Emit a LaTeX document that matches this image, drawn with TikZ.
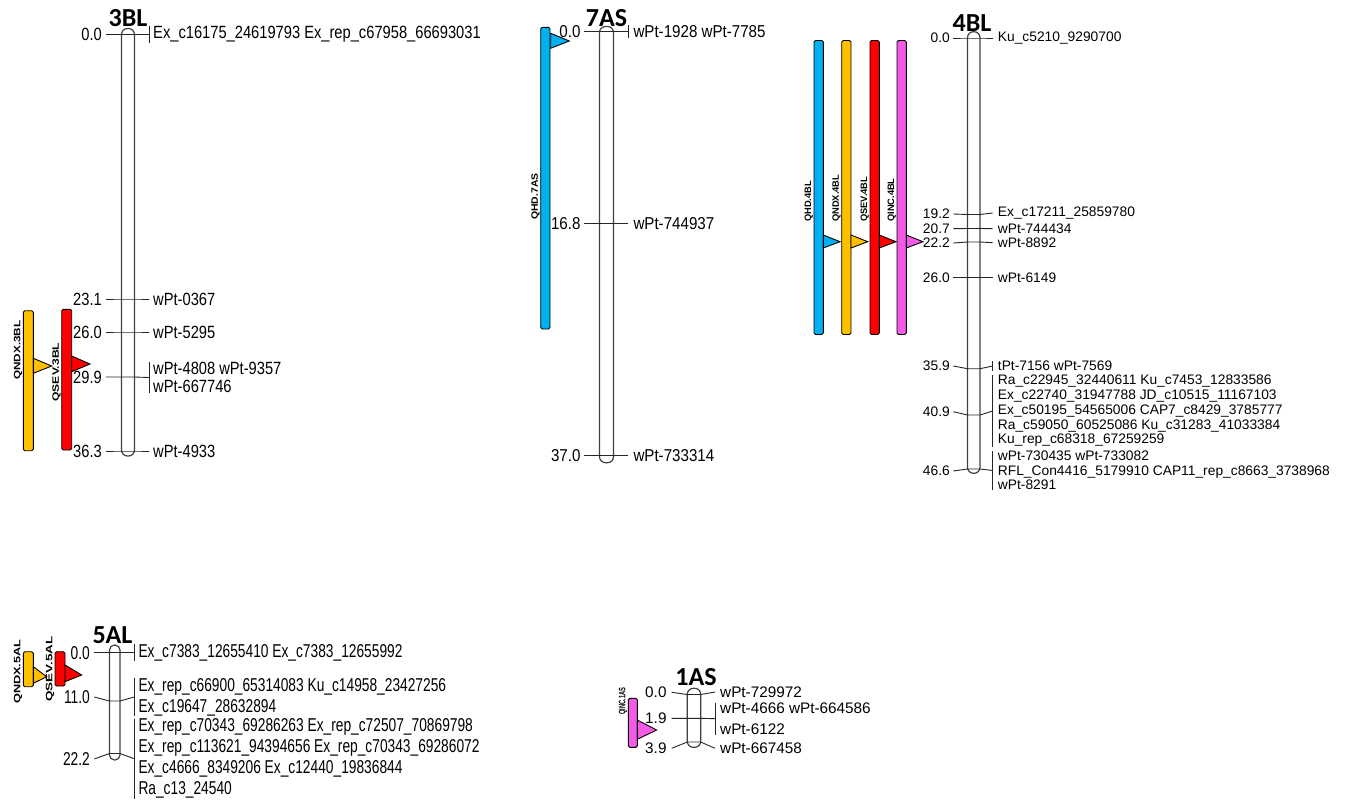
\documentclass[tikz,border=0pt]{standalone}
\usepackage{fontspec}
\usepackage{graphicx}
\setmainfont{Liberation Sans}
\newfontfamily\headfont{Carlito}
\newfontfamily\bltfont{Liberation Sans}[FakeStretch=0.83]
\newfontfamily\asfont{Liberation Sans}[FakeStretch=0.88]
\newfontfamily\alfont{Liberation Sans}[FakeStretch=0.74]
\usetikzlibrary{positioning}
\definecolor{hdblue}{HTML}{00B0F0}
\definecolor{ndxorange}{HTML}{FFC000}
\definecolor{sevred}{HTML}{FF0000}
\definecolor{incpink}{HTML}{F25BE6}
\tikzstyle{chrom} = [draw=black!75, line width=1.2pt, rounded corners=6pt]
\tikzstyle{tickline} = [draw=black!85, line width=0.9pt]
\tikzstyle{cmlabel} = [anchor=east, inner sep=0pt]
\tikzstyle{mklabel} = [anchor=west, inner sep=0pt, align=left]
\tikzstyle{chromname} = [anchor=base, inner sep=0pt, font=\headfont\bfseries\fontsize{26}{26}\selectfont]
\tikzstyle{qtlbar} = [draw=black, line width=0.9pt, rounded corners=1.5pt]
\tikzstyle{qtlpeak} = [draw=black, line width=0.9pt]
\tikzstyle{qtlname} = [rotate=90, anchor=south west, inner sep=0pt, font=\bfseries\fontsize{9.3}{10}\selectfont]

\begin{document}
\begin{tikzpicture}[x=1pt, y=-1pt]
    \useasboundingbox (0,0) rectangle (1346,801);

    % 3BL
    \draw[chrom] (121.5,28.5) rectangle (134.5,456);
    \node[chromname] (n3BL) at (128,26.7) {3BL};
    \begin{scope}[font=\bltfont\fontsize{17.7}{18.3}\selectfont]
    \foreach \n/\yc/\yl/\yr/\cM/\br/\mk in {
        a/34.5/34.5/34.5/0.0/1/{Ex\_c16175\_24619793 Ex\_rep\_c67958\_66693031},
        b/299/299/299/23.1/0/{wPt-0367},
        c/332/332/332/26.0/0/{wPt-5295},
        d/377/377/377.5/29.9/1/{wPt-4808 wPt-9357\\wPt-667746},
        e/451/451/451/36.3/0/{wPt-4933}} {
        \node[cmlabel] (bc\n) at (102,\yl) {\cM};
        \node[mklabel] (bm\n) at (153,\yr) {\mk};
        \draw[tickline] ([xshift=4pt]bc\n.east) -- (121.5,\yc) -- (134.5,\yc) -- ([xshift=-4pt]bm\n.west);
        \ifnum\br=1 \draw[tickline] ([xshift=-4pt]bm\n.north west) -- ([xshift=-4pt]bm\n.south west); \fi
    }
    \end{scope}
    \draw[qtlbar, fill=ndxorange] (23.3,310.7) rectangle (33.3,450.7);
    \draw[qtlpeak, fill=ndxorange] (33.3,358.3) -- (33.3,373.3) -- (51.7,366) -- cycle;
    \node[qtlname] (qndx3BL) at (22.5,380) {\scalebox{1.26}[1]{QNDX.3BL}};
    \draw[qtlbar, fill=sevred] (61.7,309.3) rectangle (71.7,450);
    \draw[qtlpeak, fill=sevred] (71.7,356) -- (71.7,371.7) -- (90,364) -- cycle;
    \node[qtlname] (qsev3BL) at (61,401.7) {\scalebox{1.3}[1]{QSEV.3BL}};

    % 7AS
    \draw[chrom] (599.5,26.5) rectangle (613.5,462.7);
    \node[chromname] (n7AS) at (606.5,26.7) {7AS};
    \begin{scope}[font=\asfont\fontsize{17.2}{18}\selectfont]
    \foreach \n/\yc/\yl/\yr/\cM/\br/\mk in {
        a/31.7/31.7/31.7/0.0/1/{wPt-1928 wPt-7785},
        b/223.3/223.3/223.3/16.8/0/{wPt-744937},
        c/455.7/455.7/455.7/37.0/0/{wPt-733314}} {
        \node[cmlabel] (sc\n) at (580.7,\yl) {\cM};
        \node[mklabel] (sm\n) at (633.3,\yr) {\mk};
        \draw[tickline] ([xshift=3.6pt]sc\n.east) -- (599.5,\yc) -- (613.5,\yc) -- ([xshift=-5pt]sm\n.west);
        \ifnum\br=1 \draw[tickline] ([xshift=-5pt]sm\n.north west) -- ([xshift=-5pt]sm\n.south west); \fi
    }
    \end{scope}
    \draw[qtlbar, fill=hdblue] (540.7,27.3) rectangle (550,329);
    \draw[qtlpeak, fill=hdblue] (550.7,33.3) -- (550.7,48.3) -- (569.3,41) -- cycle;
    \node[qtlname] (qhd7AS) at (539.8,220) {\scalebox{1.12}[1]{QHD.7AS}};

    % 4BL
    \draw[chrom] (967.5,31.7) rectangle (980,473.3);
    \node[chromname] (n4BL) at (972,31.5) {4BL};
    \begin{scope}[font=\fontsize{13.8}{14.7}\selectfont]
    \foreach \n/\yc/\yl/\yr/\cM/\br/\mk in {
        a/38/38/38/0.0/0/{Ku\_c5210\_9290700},
        b/214.5/214/213/19.2/0/{Ex\_c17211\_25859780},
        c/228.5/228.7/228.7/20.7/0/{wPt-744434},
        d/242/243/242.7/22.2/0/{wPt-8892},
        e/277.3/277.3/277.3/26.0/0/{wPt-6149},
        f/368.7/366/366/35.9/1/{tPt-7156 wPt-7569},
        g/415/411.7/411/40.9/1/{Ra\_c22945\_32440611 Ku\_c7453\_12833586\\Ex\_c22740\_31947788 JD\_c10515\_11167103\\Ex\_c50195\_54565006 CAP7\_c8429\_3785777\\Ra\_c59050\_60525086 Ku\_c31283\_41033384\\Ku\_rep\_c68318\_67259259},
        h/469/471/470.5/46.6/1/{wPt-730435 wPt-733082\\RFL\_Con4416\_5179910 CAP11\_rep\_c8663\_3738968\\wPt-8291}} {
        \node[cmlabel] (fc\n) at (950,\yl) {\cM};
        \node[mklabel] (fm\n) at (997.7,\yr) {\mk};
        \draw[tickline] ([xshift=3.3pt]fc\n.east) -- (967.5,\yc) -- (980,\yc) -- ([xshift=-5pt]fm\n.west);
        \ifnum\br=1 \draw[tickline] ([xshift=-5pt]fm\n.north west) -- ([xshift=-5pt]fm\n.south west); \fi
    }
    \end{scope}
    \foreach \x/\c/\q in {814/hdblue/QHD, 841.7/ndxorange/QNDX, 870/sevred/QSEV, 897/incpink/QINC} {
        \draw[qtlbar, fill=\c] (\x,40.5) rectangle (\x+9.3,334.5);
        \draw[qtlpeak, fill=\c] (\x+9.3,235) -- (\x+9.3,248) -- (\x+26,241.7) -- cycle;
        \node[qtlname] (q\q4BL) at (\x-0.8,222) {\q.4BL};
    }

    % 5AL
    \draw[chrom, rounded corners=5pt] (109.5,645) rectangle (120,760);
    \node[chromname] (n5AL) at (112.5,643.3) {5AL};
    \begin{scope}[font=\alfont\fontsize{18.6}{21}\selectfont]
    \foreach \n/\yc/\yl/\yr/\cM/\br/\mk in {
        a/652.7/652.7/652.7/0.0/1/{Ex\_c7383\_12655410 Ex\_c7383\_12655992},
        b/701/697/697/11.0/1/{Ex\_rep\_c66900\_65314083 Ku\_c14958\_23427256\\Ex\_c19647\_28632894},
        c/753.5/759/758.7/22.2/1/{Ex\_rep\_c70343\_69286263 Ex\_rep\_c72507\_70869798\\Ex\_rep\_c113621\_94394656 Ex\_rep\_c70343\_69286072\\Ex\_c4666\_8349206 Ex\_c12440\_19836844\\Ra\_c13\_24540}} {
        \node[cmlabel] (ac\n) at (90,\yl) {\cM};
        \node[mklabel] (am\n) at (138.3,\yr) {\mk};
        \draw[tickline] ([xshift=4.3pt]ac\n.east) -- (109.5,\yc) -- (120,\yc) -- ([xshift=-4pt]am\n.west);
        \ifnum\br=1 \draw[tickline] ([xshift=-4pt]am\n.north west) -- ([xshift=-4pt]am\n.south west); \fi
    }
    \end{scope}
    \draw[qtlbar, fill=ndxorange] (23.3,651.7) rectangle (33.3,686.7);
    \draw[qtlpeak, fill=ndxorange] (33.3,666.7) -- (33.3,683.3) -- (46.7,676.7) -- cycle;
    \node[qtlname] (qndx5AL) at (22.5,704) {\scalebox{1.37}[1]{QNDX.5AL}};
    \draw[qtlbar, fill=sevred] (55,651.7) rectangle (65,686);
    \draw[qtlpeak, fill=sevred] (65,665) -- (65,681.7) -- (81.7,675) -- cycle;
    \node[qtlname] (qsev5AL) at (54.3,701.7) {\scalebox{1.45}[1]{QSEV.5AL}};

    % 1AS
    \draw[chrom] (687.3,688.3) rectangle (700.7,747.3);
    \node[chromname] (n1AS) at (696,685) {1AS};
    \begin{scope}[font=\fontsize{15.3}{20.7}\selectfont]
    \foreach \n/\yc/\yl/\yr/\cM/\br/\mk in {
        a/694.5/692.3/692/0.0/0/{wPt-729972},
        b/718.3/718.3/718.7/1.9/1/{wPt-4666 wPt-664586\\wPt-6122},
        c/742/748.3/748.3/3.9/0/{wPt-667458}} {
        \node[cmlabel] (oc\n) at (666.7,\yl) {\cM};
        \node[mklabel] (om\n) at (720,\yr) {\mk};
        \draw[tickline] ([xshift=5pt]oc\n.east) -- (687.3,\yc) -- (700.7,\yc) -- ([xshift=-5pt]om\n.west);
        \ifnum\br=1 \draw[tickline] ([xshift=-5pt]om\n.north west) -- ([xshift=-5pt]om\n.south west); \fi
    }
    \end{scope}
    \draw[qtlbar, fill=incpink] (628.3,698.3) rectangle (637.3,747.3);
    \draw[qtlpeak, fill=incpink] (637.3,720) -- (637.3,739.3) -- (656.7,730) -- cycle;
    \node[qtlname] (qinc1AS) at (627.5,715) {\scalebox{0.62}[1]{QINC.1AS}};
\end{tikzpicture}
\end{document}
